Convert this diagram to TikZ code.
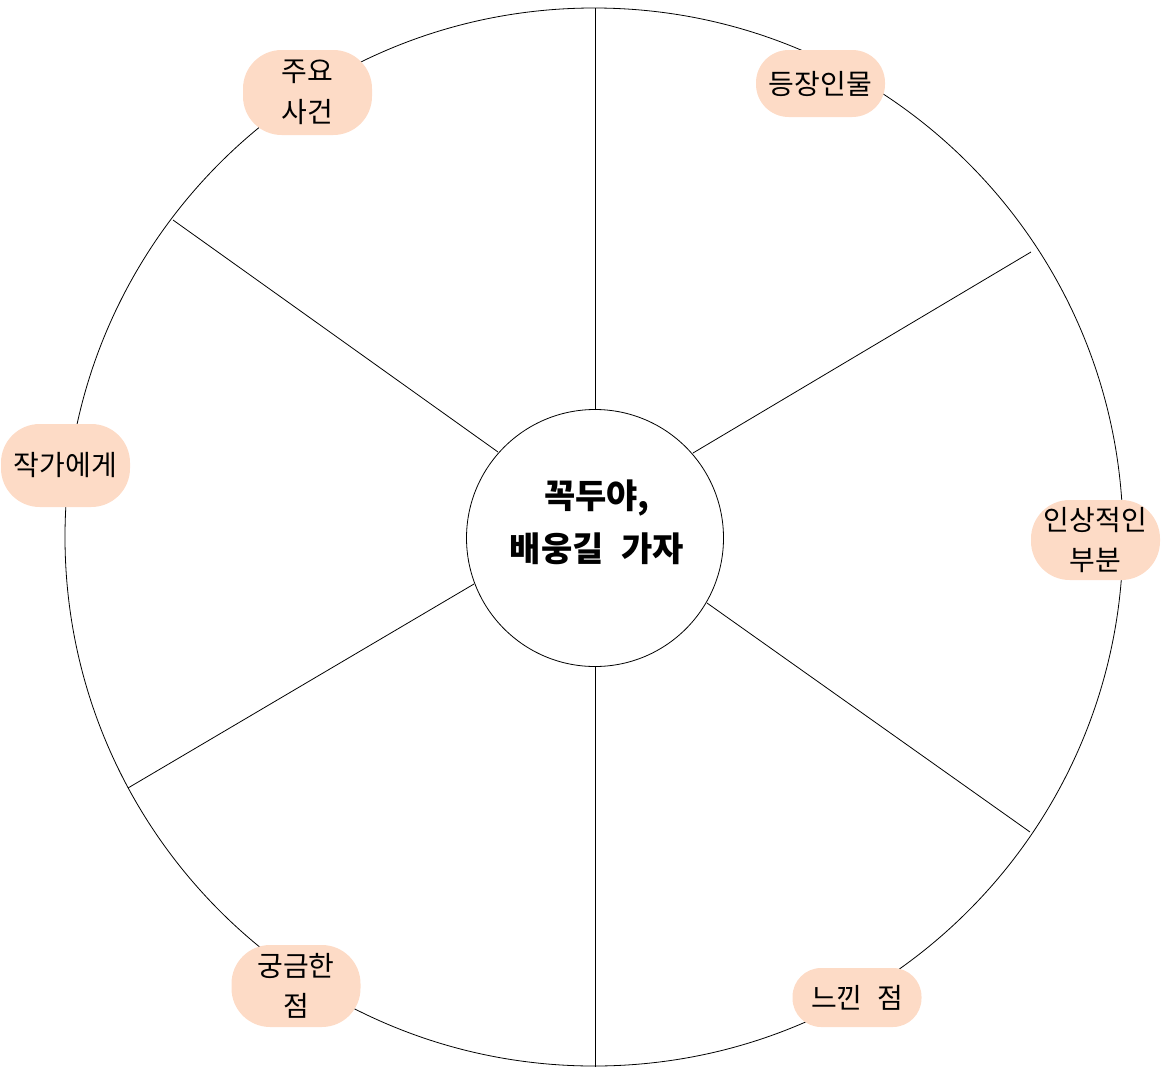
\documentclass[tikz,border=0pt]{standalone}
\usepackage{fontspec}
\newfontfamily\kr{Noto Sans CJK KR}
\definecolor{peach}{RGB}{253,219,198}
\begin{document}
\begin{tikzpicture}[x=0.75pt,y=-0.75pt,
  lbl/.style={fill=peach, rounded corners=29pt, minimum width=96.75pt, inner sep=0pt, align=center, font=\kr\fontsize{21pt}{30.5pt}\selectfont},
  spoke/.style={line width=0.6pt}]
\useasboundingbox (0,0) rectangle (1163,1067);
\draw[spoke] (594,537) circle[radius=529];
\node[circle, draw, line width=0.6pt, minimum size=192.75pt, inner sep=0pt] (hub) at (595,538) {};
\node[align=center, font=\kr\bfseries\fontsize{25.5pt}{40pt}\selectfont] (title) at (597,522) {꼭두야,\\배웅길\hspace{0.3em} 가자};
\coordinate (t1) at (595,410); \coordinate (t2) at (595,8);
\coordinate (b1) at (595,667); \coordinate (b2) at (595,1067);
\coordinate (ur1) at (693,453); \coordinate (ur2) at (1031,252);
\coordinate (lr1) at (707,603); \coordinate (lr2) at (1030,832);
\coordinate (ul1) at (498,452); \coordinate (ul2) at (173,220);
\coordinate (ll1) at (474,584); \coordinate (ll2) at (128,788);
\foreach \s in {t,b,ur,lr,ul,ll} \draw[spoke] (\s1) -- (\s2);
\node[lbl, minimum height=63.75pt] (a) at (307.5,92.5) {주요\\사건};
\node[lbl, minimum height=50.25pt, rounded corners=24.5pt] (b) at (820.5,83.5) {등장인물};
\node[lbl, minimum height=62.25pt] (c) at (65.5,465.5) {작가에게};
\node[lbl, minimum height=60pt] (d) at (1095.5,540) {인상적인\\부분};
\node[lbl, minimum height=61.5pt] (e) at (296,986) {궁금한\\점};
\node[lbl, minimum height=44.25pt, rounded corners=21.5pt] (f) at (857,997.5) {느낀\hspace{0.3em} 점};
\end{tikzpicture}
\end{document}
